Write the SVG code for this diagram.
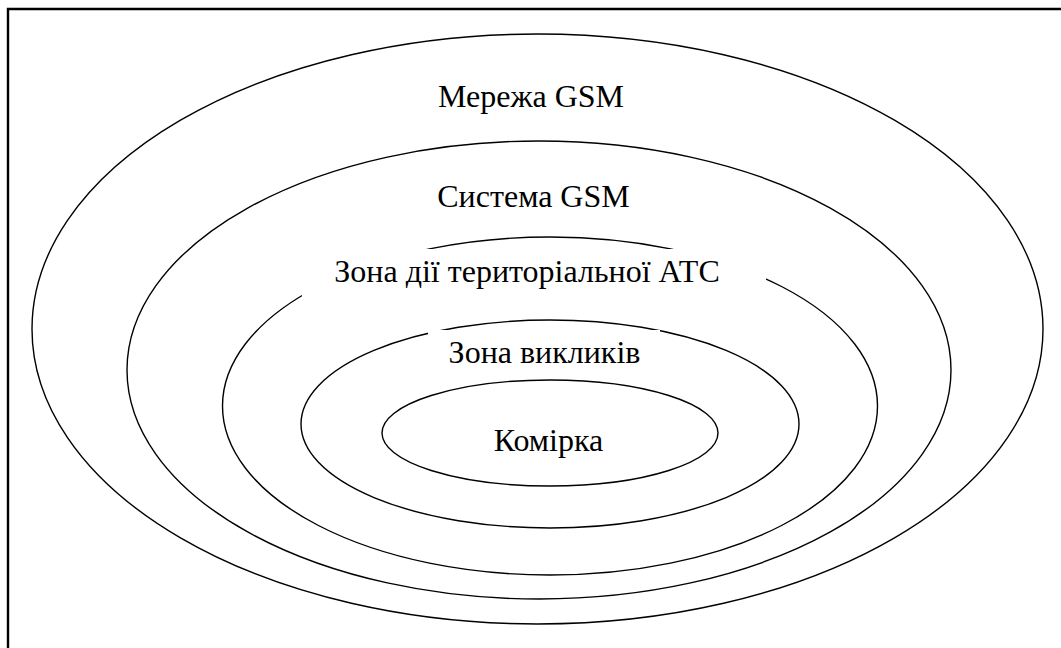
<svg xmlns="http://www.w3.org/2000/svg" width="1061" height="648" viewBox="0 0 1061 648">
  <style>
    .ring { fill: none; stroke: #000; stroke-width: 1.4; }
    .mask { fill: #fff; stroke: none; }
    .label { font-family: "Liberation Serif", "Times New Roman", serif; font-size: 32px; fill: #000; text-anchor: middle; }
  </style>
  <rect x="0" y="0" width="1061" height="648" fill="#fff"/>
  <!-- frame: only top and left edges fall inside the page -->
  <path d="M1061 9 H8 V648" fill="none" stroke="#000" stroke-width="2.4"/>

  <g id="network">
    <ellipse class="ring" cx="537.5" cy="329" rx="505.5" ry="295"/>
    <text class="label" x="531" y="107">Мережа GSM</text>
  </g>

  <g id="system">
    <ellipse class="ring" cx="539" cy="370" rx="412" ry="229"/>
    <text class="label" x="533.5" y="207">Система GSM</text>
  </g>

  <g id="exchange-area">
    <ellipse class="ring" cx="550" cy="406" rx="327.5" ry="169"/>
    <rect class="mask" x="302" y="249" width="464" height="66"/>
    <text class="label" x="527" y="282">Зона дії територіальної АТС</text>
  </g>

  <g id="paging-area">
    <ellipse class="ring" cx="550" cy="424" rx="249" ry="104"/>
    <rect class="mask" x="428" y="330" width="232" height="42"/>
    <text class="label" x="544.5" y="363">Зона викликів</text>
  </g>

  <g id="cell">
    <ellipse class="ring" cx="550" cy="433" rx="168" ry="53"/>
    <text class="label" x="548.5" y="451">Комірка</text>
  </g>
</svg>
